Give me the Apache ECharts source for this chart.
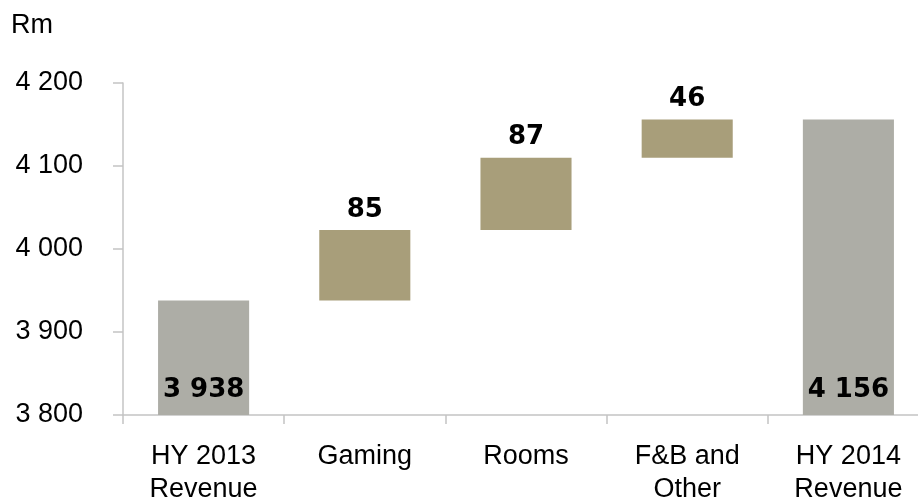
<!DOCTYPE html>
<html>
<head>
<meta charset="utf-8">
<script src="https://cdn.jsdelivr.net/npm/echarts@6/dist/echarts.min.js"></script>
<style>
  html, body { margin: 0; padding: 0; background: #fff; }
  #chart { width: 918px; height: 502px; }
</style>
</head>
<body>
<div id="chart"></div>
<script>
// Revenue bridge, HY 2013 to HY 2014 (Rm)
const categories = ['HY 2013\nRevenue', 'Gaming', 'Rooms', 'F&B and\nOther', 'HY 2014\nRevenue'];
const openingTotal = 3938;
const increments = [85, 87, 46];
const closingTotal = 4156;
const yTicks = { min: 3800, max: 4200, interval: 100 };

const GREY = '#ADADA6';
const GOLD = '#A89E7A';
const AXIS = '#C4C4C4';

// Thousands separated by a space, e.g. 4 156
function fmt(v) {
  return String(Math.round(v)).replace(/\B(?=(\d{3})+(?!\d))/g, ' ');
}

// Invisible base for floating steps, visible total / step bars stacked on it
const baseData = ['-'];
const stepData = [{ value: openingTotal, itemStyle: { color: GREY }, kind: 'total' }];
let running = openingTotal;
increments.forEach(function (d) {
  baseData.push(running);
  stepData.push({ value: d, itemStyle: { color: GOLD }, kind: 'step' });
  running += d;
});
baseData.push('-');
stepData.push({ value: closingTotal, itemStyle: { color: GREY }, kind: 'total' });

const boldLabel = {
  fontFamily: 'DejaVu Sans',
  fontWeight: 'bold',
  fontSize: 26,
  color: '#000'
};

stepData.forEach(function (d) {
  if (d.kind === 'total') {
    d.label = Object.assign({ show: true, position: 'insideBottom', distance: 12 }, boldLabel);
  } else {
    d.label = Object.assign({ show: true, position: 'top', distance: 7 }, boldLabel);
  }
});

const chart = echarts.init(document.getElementById('chart'), null, { renderer: 'canvas' });
chart.setOption({
  animation: false,
  backgroundColor: '#fff',
  grid: { left: 123, right: -11, top: 83, bottom: 87, containLabel: false, outerBoundsMode: 'none' },
  graphic: [{
    type: 'text',
    left: 11,
    top: 12,
    style: { text: 'Rm', fontFamily: 'Liberation Sans', fontSize: 27, fill: '#000' }
  }],
  xAxis: {
    type: 'category',
    data: categories,
    axisLine: { lineStyle: { color: AXIS, width: 1.5 } },
    axisTick: { show: true, length: 9, alignWithLabel: false, lineStyle: { color: AXIS, width: 1.5 } },
    axisLabel: {
      interval: 0,
      margin: 25,
      fontFamily: 'Liberation Sans',
      fontSize: 27,
      lineHeight: 33,
      color: '#000'
    },
    splitLine: { show: false }
  },
  yAxis: {
    type: 'value',
    min: yTicks.min,
    max: yTicks.max,
    interval: yTicks.interval,
    axisLine: { show: true, lineStyle: { color: AXIS, width: 1.5 } },
    axisTick: { show: true, inside: false, length: 10, lineStyle: { color: AXIS, width: 1.5 } },
    axisLabel: {
      margin: 40,
      fontFamily: 'Liberation Sans',
      fontSize: 27,
      color: '#000',
      formatter: fmt
    },
    splitLine: { show: false }
  },
  series: [
    {
      type: 'bar',
      stack: 'bridge',
      data: baseData,
      barWidth: '56.5%',
      itemStyle: { color: 'transparent' },
      emphasis: { disabled: true },
      silent: true
    },
    {
      type: 'bar',
      stack: 'bridge',
      data: stepData,
      barWidth: '56.5%',
      label: { formatter: function (p) { return fmt(p.value); } }
    }
  ]
});
</script>
</body>
</html>
